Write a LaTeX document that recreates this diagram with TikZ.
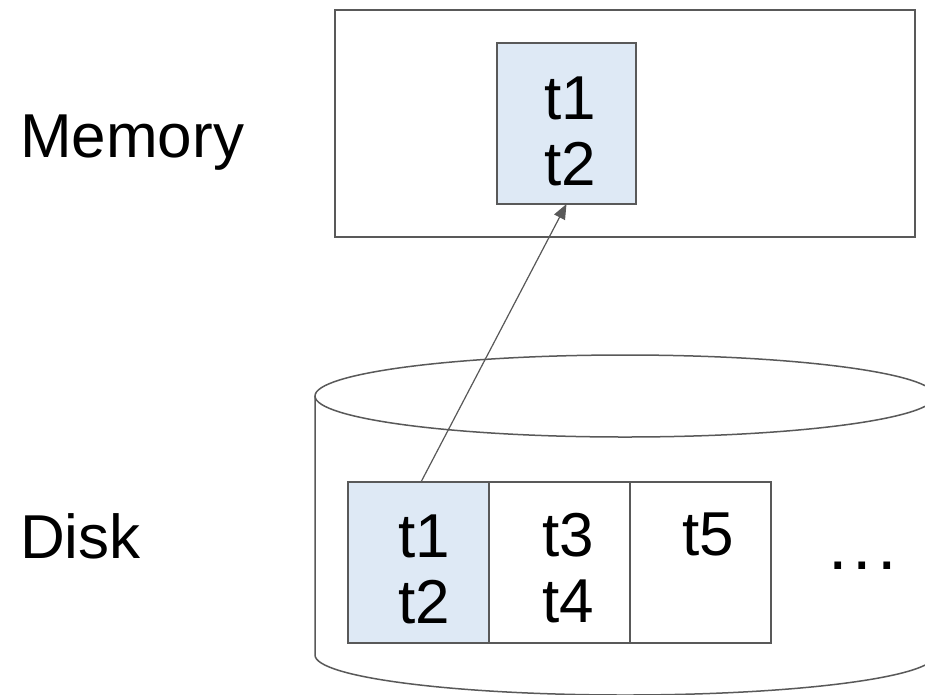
\documentclass[tikz,border=0pt]{standalone}
\usepackage{fontspec}
\setmainfont{Liberation Sans}
\usepackage{tikz}
\usetikzlibrary{arrows.meta,positioning}
\definecolor{edgegray}{RGB}{89,89,89}
\definecolor{pageblue}{RGB}{222,233,245}

\begin{document}
\begin{tikzpicture}[
  x=1pt, y=-1pt,
  every node/.style={font=\fontsize{62}{66}\selectfont},
  box/.style={draw=edgegray, line width=1.5pt, outer sep=0pt, inner sep=0pt},
  page/.style={box, minimum width=141pt, minimum height=161pt},
  tuples/.style={inner sep=0pt, anchor=north, align=center},
  label/.style={inner sep=0pt, anchor=base west},
  fetch/.style={-{Triangle[length=15pt, width=12pt]}, draw=edgegray, fill=edgegray, line width=1.2pt}
]
  % canvas, the disk runs off the right and bottom edges
  \clip (0,0) rectangle (925,694);
  \fill[white] (0,0) rectangle (925,694);

  % Memory box with one page loaded
  \node[box, minimum width=580pt, minimum height=227pt] (mem) at (625,123.5) {};
  \node[page, fill=pageblue, minimum width=139pt] (mpage) at (566.5,123.5) {};
  \node[tuples] (mtext) at (570,77) {t1\\t2};

  % Disk drawn as a cylinder (x center 625, rx 310)
  \draw[edgegray, line width=1.5pt] (625,396) ellipse [x radius=310, y radius=41];
  \draw[edgegray, line width=1.5pt] (315,396) -- (315,655)
    arc [start angle=180, end angle=0, x radius=310, y radius=40] -- (935,396);

  % Pages on disk
  \node[page, fill=pageblue] (dp1) at (418.5,562.5) {};
  \node[page, right=0pt of dp1] (dp2) {};
  \node[page, right=0pt of dp2] (dp3) {};
  \node[tuples] (d1text) at (424,515) {t1\\t2};
  \node[tuples] (d2text) at (568,513) {t3\\t4};
  \node[tuples] (d3text) at (708.5,513) {t5};
  \node[label, font=\fontsize{70}{70}\selectfont] (dots) at (828,569) {.\kern5pt.\kern5pt.};

  % Side labels
  \node[label] (memlabel) at (20,157) {Memory};
  \node[label] (disklabel) at (20,558) {Disk};

  % Reading the first page into memory
  \draw[fetch] ([xshift=2.5pt]dp1.north) -- (mpage.south);
\end{tikzpicture}
\end{document}
